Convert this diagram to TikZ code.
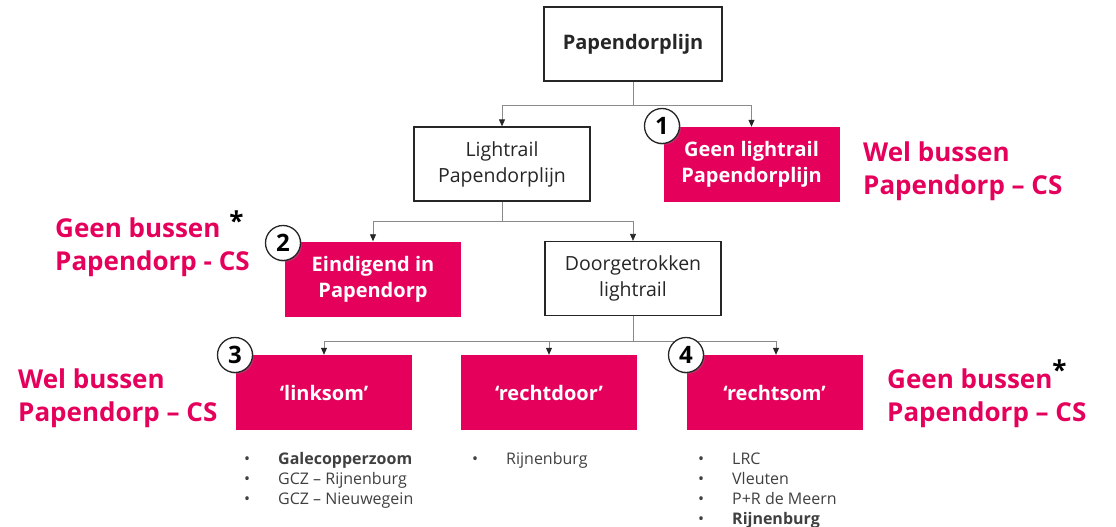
\documentclass[tikz,border=0pt]{standalone}
\usepackage{fontspec}
\setmainfont{Open Sans}
\usetikzlibrary{arrows.meta}
\usetikzlibrary{shadows}
\definecolor{papink}{HTML}{E4005B}
\definecolor{boxline}{HTML}{262626}
\definecolor{linkgray}{HTML}{8A8A8A}
\definecolor{listgray}{HTML}{404040}

\begin{document}
\begin{tikzpicture}[x=1pt,y=-1pt]
  \tikzstyle{plain}=[draw=boxline,line width=1.3pt,fill=white,minimum width=176pt,minimum height=74pt,
                     align=center,text=boxline,font=\fontsize{19.5}{26}\selectfont]
  \tikzstyle{pinkbox}=[fill=papink,minimum width=176pt,minimum height=75pt,align=center,text=white,
                     font=\fontsize{20}{26}\selectfont\bfseries]
  \tikzstyle{num}=[circle,draw=boxline,line width=1.3pt,fill=white,minimum size=35pt,inner sep=0pt,
                     font=\fontsize{24}{24}\selectfont\bfseries,
                     drop shadow={opacity=0.35,shadow xshift=1.5pt,shadow yshift=-1.5pt}]
  \tikzstyle{side}=[anchor=north west,align=left,inner sep=0pt,text=papink,font=\fontsize{26}{33}\selectfont\bfseries]
  \tikzstyle{items}=[anchor=north west,inner sep=0pt,text=listgray,font=\fontsize{16}{20}\selectfont]
  \tikzstyle{wire}=[draw=linkgray,line width=0.8pt]
  \tikzstyle{link}=[wire,-{Triangle[length=7pt,width=6pt,color=boxline]}]
  \useasboundingbox (0,0) rectangle (1116,527);
% tree boxes
  \node[plain,minimum width=178pt,font=\fontsize{20}{26}\selectfont\bfseries] (top) at (633,44) {Papendorplijn};
  \node[plain]   (light)    at (502,164)   {Lightrail\\Papendorplijn};
  \node[pinkbox] (nolight)  at (751.5,164.5) {Geen lightrail\\Papendorplijn};
  \node[pinkbox] (endpd)    at (373,279)   {Eindigend in\\Papendorp};
  \node[plain]   (through)  at (633,278.5) {Doorgetrokken\\lightrail};
  \node[pinkbox] (leftway)  at (324,392.5) {‘linksom’};
  \node[pinkbox] (straight) at (549,392.5) {‘rechtdoor’};
  \node[pinkbox] (rightway) at (774.5,392.5) {‘rechtsom’};
% connectors
  \coordinate (split1) at (633,105);
  \coordinate (split2) at (502,221);
  \coordinate (split3) at (633,341);
  \draw[wire] (top) -- (split1);
  \draw[link] (split1) -| (light.north);
  \draw[link] (split1) -| (nolight.north);
  \draw[wire] (light) -- (split2);
  \draw[link] (split2) -| (endpd.north);
  \draw[link] (split2) -| (through.north);
  \draw[wire] (through) -- (split3);
  \draw[link] (split3) -| (leftway.north);
  \draw[link] (split3) -| (straight.north);
  \draw[link] (split3) -| ([xshift=1.5pt]rightway.north);
% numbered markers
  \node[num] (one)   at (662,126) {1};
  \node[num] (two)   at (283,243) {2};
  \node[num] (three) at (235,355) {3};
  \node[num] (four)  at (686,355) {4};
% bus remarks
  \node[side] (bus1) at (863,142) {Wel bussen\\Papendorp – CS};
  \node[side] (bus2) at (55,218)  {Geen bussen\hspace{9pt}\smash{\raisebox{7pt}{\color{black}*}}\\Papendorp - CS};
  \node[side] (bus3) at (18,369)  {Wel bussen\\Papendorp – CS};
  \node[side] (bus4) at (887,369) {Geen bussen\smash{\raisebox{9pt}{\color{black}*}}\\Papendorp – CS};
% destinations
  \node[items] (list3) at (244,450) {\begin{tabular}{@{}p{34pt}@{}l@{}}
    \textbullet & \textbf{Galecopperzoom}\\ \textbullet & GCZ – Rijnenburg\\ \textbullet & GCZ – Nieuwegein\end{tabular}};
  \node[items] (liststr) at (472,450) {\begin{tabular}{@{}p{34pt}@{}l@{}}
    \textbullet & Rijnenburg\end{tabular}};
  \node[items] (list4) at (698,450) {\begin{tabular}{@{}p{34pt}@{}l@{}}
    \textbullet & LRC\\ \textbullet & Vleuten\\ \textbullet & P+R de Meern\\ \textbullet & \textbf{Rijnenburg}\end{tabular}};
\end{tikzpicture}
\end{document}
